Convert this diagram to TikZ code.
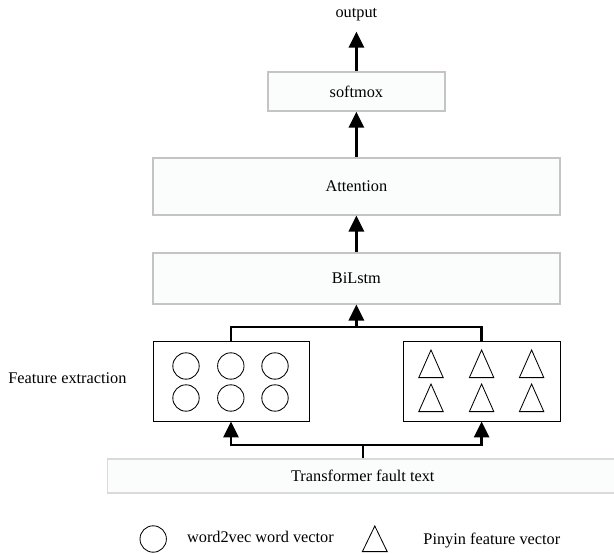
\documentclass[tikz,border=0pt]{standalone}
\usepackage{fontspec}
\setmainfont{Liberation Serif}
\usetikzlibrary{arrows.meta, positioning}
\definecolor{layergray}{RGB}{196,196,196}
\definecolor{layerfill}{RGB}{251,252,252}
\definecolor{textgray}{RGB}{218,218,218}

\begin{document}
\begin{tikzpicture}[font=\fontsize{11.6}{14}\selectfont,
  layer/.style={draw=layergray, fill=layerfill, line width=0.9pt, minimum width=10.175cm, inner sep=0pt},
  featbox/.style={draw=black, fill=white, line width=0.7pt, minimum width=3.9cm, minimum height=2cm, inner sep=0pt},
  flow/.style={line width=1.7pt, -{Triangle[length=4mm, width=3.8mm]}},
  link/.style={line width=1.7pt}]

\useasboundingbox (0,0) rectangle (15.35,13.85);

% Layers
\node[inner sep=0.25cm] (output) at (8.91,13.475) {output};
\node[layer, minimum width=4.425cm, minimum height=0.975cm] (softmox) at (8.91,11.56) {softmox};
\node[layer, minimum height=1.425cm] (attention) at (8.91,9.19) {Attention};
\node[layer, minimum height=1.275cm] (bilstm) at (8.91,6.89) {BiLstm};
\node[featbox] (wordbox) at (5.775,4.325) {};
\node[featbox, minimum width=3.925cm] (pinyinbox) at (12.04,4.325) {};
\node[layer, draw=textgray, minimum width=12.75cm, minimum height=0.85cm] (fault) at (9.07,1.95) {Transformer fault text};
\node[anchor=west, inner sep=0pt] (featlabel) at (0.2,4.4) {Feature extraction};

% word2vec circles
\foreach \x in {4.65,5.77,6.875}
  \foreach \y in {4.7,3.9}
    \draw[line width=0.6pt] (\x,\y) circle (0.33);

% Pinyin triangles
\foreach \x in {10.775,12.04,13.29}
  \foreach \y in {4.41,3.56}
    \draw[line width=0.6pt, line join=miter] (\x-0.305,\y) -- (\x,\y+0.69) -- (\x+0.305,\y) -- cycle;

% Connections
\draw[flow] (softmox) -- (output);
\draw[flow] (attention) -- (softmox);
\draw[flow] (bilstm) -- (attention);

\coordinate (join) at (8.91,5.68);
\draw[link] (wordbox.north) |- (join) -| (pinyinbox.north);
\draw[flow] (join) -- (bilstm.south);

\coordinate (split) at (9.07,2.725);
\draw[link] (fault.north) -- (split);
\draw[flow] (split) -| (wordbox.south);
\draw[flow] (split) -| (pinyinbox.south);

% Legend
\draw[line width=0.6pt] (3.83,0.375) circle (0.33);
\node[anchor=west, inner sep=0pt] (wordlegend) at (4.67,0.42) {word2vec word vector};
\draw[line width=0.6pt, line join=miter] (9.06,0.06) -- (9.37,0.7) -- (9.68,0.06) -- cycle;
\node[anchor=west, inner sep=0pt] (pinyinlegend) at (10.58,0.33) {Pinyin feature vector};

\end{tikzpicture}
\end{document}
